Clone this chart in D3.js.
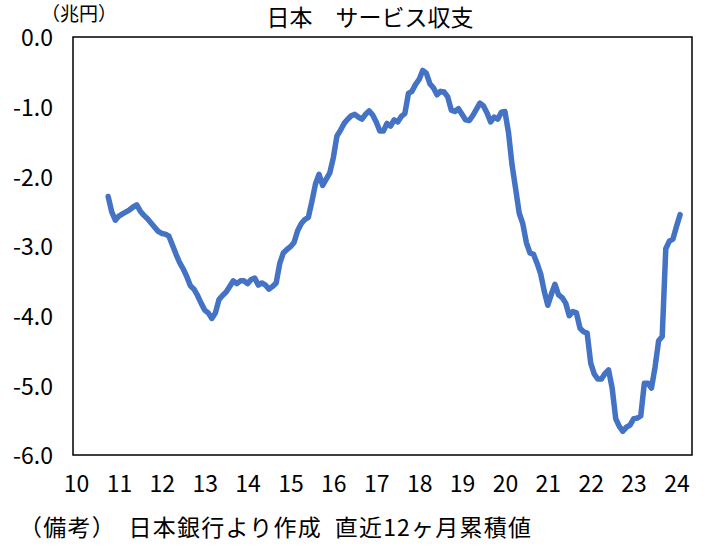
<!DOCTYPE html>
<html>
<head>
<meta charset="utf-8">
<script src="https://cdn.jsdelivr.net/npm/d3@7"></script>
<style>
  html, body { margin: 0; padding: 0; background: #fff; }
  svg { display: block; }
</style>
</head>
<body>
<svg id="chart" width="724" height="557"></svg>
<script>
// ---- Data ----
const title = "日本\u3000サービス収支";
const unitLabel = "（兆円）";
const note = "（備考）\u2002日本銀行より作成\u2002直近12ヶ月累積値";

// first month of the series (monthly data, 12-month cumulative, trillion yen)
const startYear = 2010;
const startMonth = 10;

const values = [
  -2.29, -2.51, -2.63,
  -2.57, -2.54, -2.51, -2.48, -2.44, -2.41, -2.50, -2.56, -2.61, -2.67, -2.73, -2.79,
  -2.82, -2.83, -2.86, -2.99, -3.12, -3.24, -3.33, -3.44, -3.57, -3.62, -3.71, -3.82,
  -3.92, -3.96, -4.04, -3.96, -3.77, -3.71, -3.66, -3.58, -3.50, -3.54, -3.50, -3.50,
  -3.54, -3.48, -3.46, -3.56, -3.53, -3.56, -3.62, -3.58, -3.53, -3.25, -3.10, -3.05,
  -3.01, -2.95, -2.78, -2.68, -2.62, -2.59, -2.36, -2.11, -1.97, -2.13, -2.04, -1.95,
  -1.73, -1.42, -1.34, -1.24, -1.18, -1.13, -1.11, -1.15, -1.18, -1.11, -1.06, -1.12,
  -1.22, -1.35, -1.35, -1.24, -1.28, -1.19, -1.22, -1.14, -1.10, -0.81, -0.78, -0.68,
  -0.61, -0.48, -0.52, -0.67, -0.73, -0.83, -0.78, -0.79, -0.86, -1.05, -1.07, -1.03,
  -1.11, -1.19, -1.20, -1.13, -1.04, -0.95, -0.99, -1.09, -1.22, -1.15, -1.18, -1.08,
  -1.07, -1.37, -1.84, -2.18, -2.53, -2.68, -2.95, -3.10, -3.12, -3.25, -3.40, -3.65,
  -3.85, -3.69, -3.55, -3.70, -3.74, -3.82, -4.00, -3.94, -3.96, -4.18, -4.23, -4.25,
  -4.68, -4.84, -4.91, -4.91, -4.83, -4.78, -5.04, -5.48, -5.59, -5.66, -5.60, -5.57,
  -5.48, -5.47, -5.44, -4.97, -4.97, -5.04, -4.74, -4.36, -4.30, -3.04, -2.93, -2.90,
  -2.72, -2.55
];

const xTickYears  = [2010, 2011, 2012, 2013, 2014, 2015, 2016, 2017, 2018, 2019, 2020, 2021, 2022, 2023, 2024];
const xTickLabels = ["10", "11", "12", "13", "14", "15", "16", "17", "18", "19", "20", "21", "22", "23", "24"];
const yTicks      = [0, -1, -2, -3, -4, -5, -6];
const yTickLabels = ["0.0", "-1.0", "-2.0", "-3.0", "-4.0", "-5.0", "-6.0"];

// ---- Layout ----
const plot = { left: 73, top: 37, right: 692, bottom: 455 };
const numFont = "'Noto Sans CJK JP', 'Noto Sans', sans-serif";
const jpFont = "'Noto Sans CJK JP', 'Noto Sans', sans-serif";

const svg = d3.select("#chart");

const x = d3.scaleLinear().domain([2010, 2024]).range([76, 676.5]);
const y = d3.scaleLinear().domain([-6, 0]).range([plot.bottom, plot.top]);

const data = values.map((v, i) => ({ t: startYear + (startMonth - 1) / 12 + i / 12, v }));

// frame
svg.append("rect")
  .attr("x", plot.left).attr("y", plot.top)
  .attr("width", plot.right - plot.left).attr("height", plot.bottom - plot.top)
  .attr("fill", "none").attr("stroke", "#000").attr("stroke-width", 1.5);

// y axis
const yAxis = svg.append("g")
  .attr("transform", `translate(${plot.left},0)`)
  .call(d3.axisLeft(y).tickValues(yTicks).tickSize(0).tickPadding(20)
    .tickFormat((d, i) => yTickLabels[i]));
yAxis.select(".domain").remove();
yAxis.selectAll("text")
  .attr("dy", "0.38em")
  .style("font-family", numFont).style("font-size", "23px").attr("fill", "#000");

// x axis
const xAxis = svg.append("g")
  .attr("transform", `translate(0,${plot.bottom})`)
  .call(d3.axisBottom(x).tickValues(xTickYears).tickSize(0)
    .tickFormat((d, i) => xTickLabels[i]));
xAxis.select(".domain").remove();
xAxis.selectAll("text")
  .attr("dy", null).attr("y", 37)
  .style("font-family", numFont).style("font-size", "23px").attr("fill", "#000");

// line
const line = d3.line().x(d => x(d.t)).y(d => y(d.v));
svg.append("path")
  .datum(data)
  .attr("d", line)
  .attr("fill", "none")
  .attr("stroke", "#4472C4")
  .attr("stroke-width", 5.5)
  .attr("stroke-linejoin", "round")
  .attr("stroke-linecap", "round");

// title
svg.append("text")
  .attr("x", 370).attr("y", 26)
  .attr("text-anchor", "middle")
  .style("font-family", jpFont).style("font-size", "23px")
  .text(title);

// unit label
svg.append("text")
  .attr("x", 79).attr("y", 21)
  .attr("text-anchor", "middle")
  .style("font-family", jpFont).style("font-size", "19px")
  .text(unitLabel);

// note
svg.append("text")
  .attr("x", 19).attr("y", 536)
  .attr("textLength", 512).attr("lengthAdjust", "spacing")
  .style("font-family", jpFont).style("font-size", "23px")
  .text(note);
</script>
</body>
</html>
